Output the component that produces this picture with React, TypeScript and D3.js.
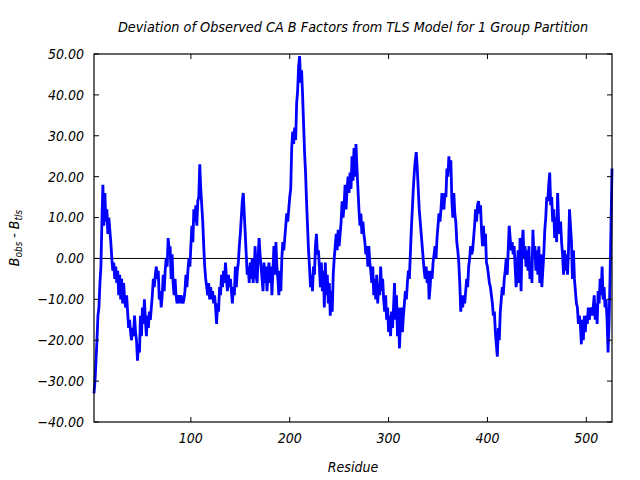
import React from "react";
import * as d3 from "d3";

const title = "Deviation of Observed CA B Factors from TLS Model for 1 Group Partition";
const xLabel = "Residue";
const firstResidue = 2;
const lastResidue = 526;
const xTicks = [100, 200, 300, 400, 500];
const yTicks = [-40, -30, -20, -10, 0, 10, 20, 30, 40, 50];

// B_obs - B_tls for residues 2..526
const deviation = [
  -33, -30, -25, -20, -14, -12, -6, -2, 9, 18,
  8, 16, 9, 12, 6, 10, 7, 4, 0, -3,
  -1, -5, -2, -6, -3, -9, -4, -10, -5, -11,
  -6, -10, -12, -9, -13, -17, -15, -18, -20, -17,
  -19, -14, -18, -20, -25, -21, -23, -14, -19, -12,
  -16, -10, -15, -19, -14, -17, -13, -15, -12, -9,
  -5, -7, -4, -2, -5, -3, -10, -8, -12, -9,
  -4, -8, -3, 0, -2, 5, 2, 3, -5, 1,
  -6, -9, -5, -9, -11, -10, -9, -11, -9, -10,
  -11, -10, -8, -4, -7, -3, 0, -2, 3, 8,
  4, 12, 9, 13, 8, 14, 15, 23, 17, 13,
  9, 3, -2, -5, -7, -9, -6, -10, -7, -10,
  -8, -11, -9, -12, -16, -11, -13, -7, -9, -4,
  -7, -3, -6, -1, -5, -8, -4, -7, -5, -8,
  -11, -7, -9, -2, -7, -3, -1, 3, 6, 10,
  14, 16, 11, 6, 1, -4, -2, -6, -1, -5,
  0, -6, -3, 3, -4, -6, 0, 5, 1, -2,
  -5, -8, -1, -6, -2, -8, -4, -1, -6, -2,
  -9, -3, 3, -4, 4, -2, -5, -9, -3, -8,
  0, 4, 2, 5, 8, 11, 9, 12, 15, 17,
  27, 31, 28, 32, 29, 38, 41, 47, 49.5, 43,
  46, 40, 33, 26, 21, 14, 8, 2, -2, -7,
  -4, -8, -2, -4, 3, 6, 1, 2, -2, -7,
  -1, -8, -3, -12, -1, -9, -4, -11, -6, -14,
  -8, -13, -4, 0, 3, 6, 2, 7, 3, 6,
  9, 14, 10, 13, 18, 12, 17, 20, 16, 21,
  17, 25, 19, 27, 20, 28, 22, 17, 12, 8,
  11, 6, 9, 6, 4, 1, 3, -2, 3, -1,
  -3, -6, -2, -9, -5, -10, -4, -11, -6, -9,
  -2, -8, -5, -10, -13, -9, -15, -12, -18, -14,
  -19, -13, -17, -12, -6, -15, -9, -19, -12, -22,
  -16, -12, -18, -14, -11, -8, -10, -6, -3, -5,
  1, 7, 12, 17, 21, 24, 26, 22, 17, 12,
  9, 6, 3, 0, -3, -5, -2, -6, -3, -10,
  -7, -3, -5, -1, 1, 3, 0, 5, 8, 11,
  9, 12, 16, 13, 12, 16, 15, 22, 20, 25,
  21, 24, 14, 10, 16, 11, 9, 4, 2, -1,
  -6, -13, -9, -12, -9, -11, -8, -5, -7, -2,
  0, 3, 1, 2, 5, 8, 12, 9, 13, 14,
  11, 13, 7, 3, 8, 3, 6, -1, -2, -4,
  -6, -7, -9, -11, -14, -13, -18, -21, -24, -17,
  -20, -13, -10, -7, -9, -5, -3, 0, -4, 2,
  8, 5, 2, 4, 1, 3, -2, -7, -4, 2,
  -6, 5, -8, 3, 7, 0, 3, -2, 2, -3,
  3, -5, -1, -6, 7, 1, 3, -3, 2, -4,
  3, -6, 1, -7, -3, 1, 7, 10, 15, 14,
  18, 21, 13, 15, 9, 12, 5, 10, 4, 16,
  9, 6, 9, 4, 1, -4, 2, -3, 1, -4,
  2, 12, 8, 4, -5, 2, -5, -8, -11, -12,
  -16, -14, -16, -21, -15, -20, -14, -18, -14, -16,
  -12, -15, -13, -12, -14, -12, -9, -15, -11, -16,
  -8, -11, -5, -9, -2, -10, -7, -12, -10, -15,
  -23, -16, -5, 8, 22,
];

const residues = deviation.map((_, i) => firstResidue + i);

const W = 640, H = 480;
const M = { left: 94, right: 612, top: 54, bottom: 422 };
const FONT = "'DejaVu Sans Condensed', 'DejaVu Sans', sans-serif";

export default function App() {
  const x = d3.scaleLinear().domain([firstResidue, lastResidue]).range([M.left, M.right]);
  const y = d3.scaleLinear().domain([-40, 50]).range([M.bottom, M.top]);
  const line = d3
    .line<number>()
    .x((_, i) => x(residues[i]))
    .y((d) => y(d));
  const fmt = d3.format(".2f");
  const tickLen = 5;
  const textStyle: React.CSSProperties = {
    fontFamily: FONT,
    fontStyle: "italic",
    fontStretch: "condensed",
    fontSize: 14,
    fill: "#000",
  };
  return (
    <svg width={W} height={H} style={{ position: "absolute", left: 0, top: 0, background: "#fff" }}>
      <rect x={0} y={0} width={W} height={H} fill="#fff" />
      <text x={(M.left + M.right) / 2} y={32} textAnchor="middle" style={{ ...textStyle, fontSize: 14.3 }}>
        {title}
      </text>
      {/* zero line */}
      <line x1={M.left} x2={M.right} y1={y(0)} y2={y(0)} stroke="#000" strokeWidth={1} />
      {/* data line */}
      <path d={line(deviation) || ""} fill="none" stroke="#0000ff" strokeWidth={2.8} strokeLinejoin="miter" />
      {/* frame */}
      <rect
        x={M.left}
        y={M.top}
        width={M.right - M.left}
        height={M.bottom - M.top}
        fill="none"
        stroke="#000"
        strokeWidth={1.2}
      />
      {yTicks.map((t) => (
        <g key={"y" + t}>
          <line x1={M.left} x2={M.left + tickLen} y1={y(t)} y2={y(t)} stroke="#000" />
          <line x1={M.right} x2={M.right - tickLen} y1={y(t)} y2={y(t)} stroke="#000" />
          <text x={84} y={y(t)} dy="0.35em" textAnchor="end" style={textStyle}>
            {fmt(t)}
          </text>
        </g>
      ))}
      {xTicks.map((t) => (
        <g key={"x" + t}>
          <line x1={x(t)} x2={x(t)} y1={M.bottom} y2={M.bottom - tickLen} stroke="#000" />
          <line x1={x(t)} x2={x(t)} y1={M.top} y2={M.top + tickLen} stroke="#000" />
          <text x={x(t)} y={443} textAnchor="middle" style={textStyle}>
            {t}
          </text>
        </g>
      ))}
      <text x={(M.left + M.right) / 2} y={472} textAnchor="middle" style={textStyle}>
        {xLabel}
      </text>
      <text transform={`translate(19, ${(M.top + M.bottom) / 2}) rotate(-90)`} textAnchor="middle" style={textStyle}>
        <tspan>B</tspan>
        <tspan fontSize={10} dy={3}>obs</tspan>
        <tspan dy={-3}>{" - B"}</tspan>
        <tspan fontSize={10} dy={3}>tls</tspan>
      </text>
    </svg>
  );
}
